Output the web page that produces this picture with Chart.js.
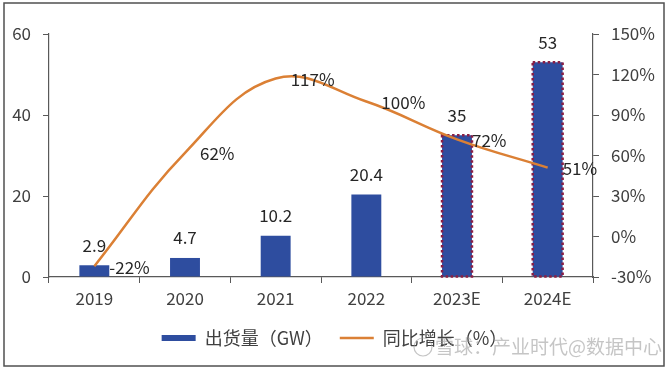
<!DOCTYPE html>
<html>
<head>
<meta charset="utf-8">
<script src="https://cdn.jsdelivr.net/npm/chart.js@4/dist/chart.umd.min.js"></script>
<style>
  html, body { margin: 0; padding: 0; background: #fff; }
  #wrap { width: 669px; height: 370px; }
</style>
</head>
<body>
<div id="wrap"><canvas id="chart" width="669" height="370"></canvas></div>
<script>
// 数据
const years = ['2019', '2020', '2021', '2022', '2023E', '2024E'];
const shipment = [2.9, 4.7, 10.2, 20.4, 35, 53];       // 出货量（GW）
const growth = [-22, 62, 117, 100, 72, 51];              // 同比增长（%）
const leftTicks = [0, 20, 40, 60];
const rightTicks = [-30, 0, 30, 60, 90, 120, 150];
const estimated = ['2023E', '2024E'];

const FONT = '"Noto Sans CJK SC", "Microsoft YaHei", sans-serif';
const BAR = '#2E4D9F';
const LINE = '#DB8035';

// 背景 + 外框 + 水印文字
const framePlugin = {
  id: 'frame',
  beforeDraw(chart) {
    const ctx = chart.ctx;
    ctx.save();
    ctx.fillStyle = '#fff';
    ctx.fillRect(0, 0, chart.width, chart.height);
    ctx.strokeStyle = '#505050';
    ctx.lineWidth = 1.5;
    ctx.strokeRect(4, 3, chart.width - 9, chart.height - 7);
    ctx.restore();
  },
  afterDraw(chart) {
    const ctx = chart.ctx;
    ctx.save();
    ctx.fillStyle = 'rgba(150,150,150,0.55)';
    ctx.font = '19px ' + FONT;
    ctx.textBaseline = 'middle';
    ctx.fillText('雪球：产业时代@数据中心', 435, 347);
    ctx.strokeStyle = 'rgba(150,150,150,0.55)';
    ctx.lineWidth = 1.2;
    ctx.beginPath();
    ctx.arc(423, 347, 9, 0, Math.PI * 2);
    ctx.stroke();
    ctx.restore();
  }
};

// 预测年份柱子的虚线边框（画在折线下面）
const dottedBorder = {
  id: 'dottedBorder',
  afterDatasetDraw(chart, args) {
    if (args.index !== 0) return;
    const ctx = chart.ctx;
    ctx.save();
    ctx.strokeStyle = '#8A1F45';
    ctx.lineWidth = 2.5;
    ctx.setLineDash([2.5, 2.5]);
    args.meta.data.forEach((bar, i) => {
      if (!estimated.includes(years[i])) return;
      const p = bar.getProps(['x', 'y', 'base', 'width'], true);
      ctx.strokeRect(p.x - p.width / 2, p.y, p.width, p.base - p.y);
    });
    ctx.restore();
  }
};

// 数据标签
const valueLabels = {
  id: 'valueLabels',
  afterDatasetsDraw(chart) {
    const ctx = chart.ctx;
    ctx.save();
    ctx.font = '17px ' + FONT;
    ctx.fillStyle = '#262626';
    ctx.textBaseline = 'middle';
    ctx.textAlign = 'center';
    chart.getDatasetMeta(0).data.forEach((bar, i) => {
      ctx.fillText(String(shipment[i]), bar.x, bar.y - 20);
    });
    ctx.textAlign = 'left';
    chart.getDatasetMeta(1).data.forEach((pt, i) => {
      ctx.fillText(growth[i] + '%', pt.x + 15, pt.y + 1);
    });
    ctx.restore();
  }
};

new Chart(document.getElementById('chart'), {
  data: {
    labels: years,
    datasets: [
      {
        type: 'bar',
        label: '出货量（GW）',
        data: shipment,
        backgroundColor: BAR,
        borderWidth: 0,
        barPercentage: 0.33,
        categoryPercentage: 1,
        yAxisID: 'y',
        order: 2,
        pointStyle: 'rect'
      },
      {
        type: 'line',
        label: '同比增长（%）',
        data: growth,
        borderColor: LINE,
        backgroundColor: LINE,
        borderWidth: 2.5,
        tension: 0.4,
        pointRadius: 0,
        fill: false,
        yAxisID: 'y1',
        order: 1,
        pointStyle: 'line'
      }
    ]
  },
  options: {
    responsive: false,
    animation: false,
    layout: { padding: { top: 34, left: 0, right: 0, bottom: 13 } },
    plugins: {
      tooltip: { enabled: false },
      legend: {
        position: 'bottom',
        labels: {
          usePointStyle: true,
          pointStyleWidth: 34,
          boxHeight: 6,
          padding: 17,
          color: '#404040',
          font: { family: FONT, size: 18 },
          sort: (a, b) => a.datasetIndex - b.datasetIndex
        }
      }
    },
    scales: {
      x: {
        offset: true,
        grid: { display: true, drawOnChartArea: false, offset: true, tickLength: 6, color: '#595959' },
        border: { color: '#595959', width: 1.2 },
        ticks: { color: '#404040', font: { family: FONT, size: 17 }, padding: 5 },
        afterFit(scale) { scale.height = 35; }
      },
      y: {
        position: 'left',
        min: 0,
        max: 60,
        afterBuildTicks(scale) { scale.ticks = leftTicks.map(v => ({ value: v })); },
        grid: { display: true, drawOnChartArea: false, tickLength: 6, color: '#595959' },
        border: { color: '#595959', width: 1.2 },
        ticks: { color: '#404040', font: { family: FONT, size: 17 }, padding: 12 },
        afterFit(scale) { scale.width = 49; }
      },
      y1: {
        position: 'right',
        min: -30,
        max: 150,
        afterBuildTicks(scale) { scale.ticks = rightTicks.map(v => ({ value: v })); },
        grid: { display: true, drawOnChartArea: false, tickLength: 6, color: '#595959' },
        border: { color: '#595959', width: 1.2 },
        ticks: {
          color: '#404040',
          font: { family: FONT, size: 17 },
          padding: 12,
          callback: v => v + '%'
        },
        afterFit(scale) { scale.width = 76; }
      }
    }
  },
  plugins: [framePlugin, dottedBorder, valueLabels]
});
</script>
</body>
</html>
